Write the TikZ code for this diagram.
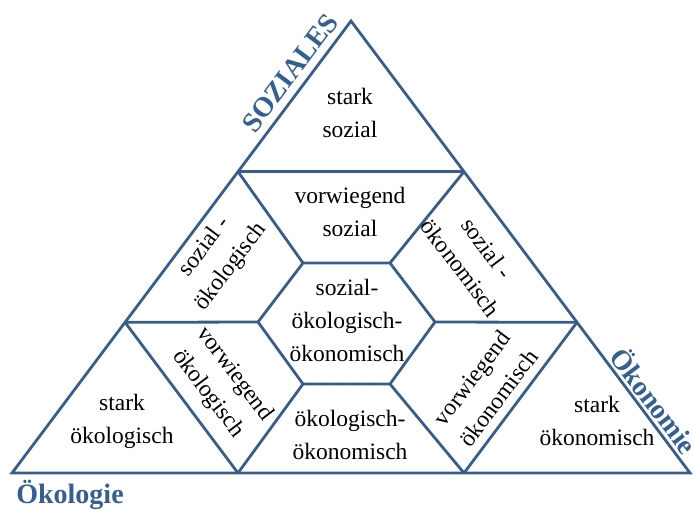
\documentclass[tikz,border=0pt]{standalone}
\usepackage{fontspec}
\setmainfont{Liberation Serif}
\usepackage{tikz}
\usetikzlibrary{positioning, calc}
\definecolor{pyramidblue}{RGB}{56, 93, 138}
\definecolor{pillarblue}{RGB}{54, 95, 145}

\begin{document}
\begin{tikzpicture}[x=1pt, y=-1pt,
    edge/.style={draw=pyramidblue, line width=2.8pt},
    cell/.style={inner sep=0pt, align=center, font=\fontsize{23.5}{33}\selectfont},
    pillar/.style={inner sep=0pt, text=pillarblue, font=\fontsize{28}{30}\selectfont\bfseries}]
    \clip (0,0) rectangle (694,514);
    \coordinate (apex) at (351,21);
    \coordinate (left) at (12,473);
    \coordinate (right) at (690,473);
    \coordinate (l1) at ($(apex)!1/3!(left)$);
    \coordinate (l2) at ($(apex)!2/3!(left)$);
    \coordinate (r1) at ($(apex)!1/3!(right)$);
    \coordinate (r2) at ($(apex)!2/3!(right)$);
    \coordinate (b1) at ($(left)!1/3!(right)$);
    \coordinate (b2) at ($(left)!2/3!(right)$);
    % hexagon
    \coordinate (h1) at (303,263);
    \coordinate (h2) at (390,263);
    \coordinate (h3) at (435,322);
    \coordinate (h4) at (390,384);
    \coordinate (h5) at (303,384);
    \coordinate (h6) at (258,322);

    \draw[edge] (apex) -- (left) -- (right) -- cycle;
    \draw[edge] (l1) -- (r1);
    \draw[edge] (l2) -- (h6);
    \draw[edge] (h3) -- (r2);
    \draw[edge] (l1) -- (h1);
    \draw[edge] (r1) -- (h2);
    \draw[edge] (h5) -- (b1);
    \draw[edge] (h4) -- (b2);
    \draw[edge] (l2) -- (b1);
    \draw[edge] (r2) -- (b2);
    \draw[edge] (h1) -- (h2) -- (h3) -- (h4) -- (h5) -- (h6) -- cycle;

    \node[cell] (starksoz) at (350,113) {stark\\sozial};
    \node[cell] (vorwsoz) at (350,212) {vorwiegend\\sozial};
    \node[cell] (alle) at (347,320) {sozial-\\ökologisch-\\ökonomisch};
    \node[cell] (oekoloek) at (350,435) {ökologisch-\\ökonomisch};
    \node[cell] (starkoekol) at (122,421) {stark\\ökologisch};
    \node[cell] (starkoekon) at (597,421) {stark\\ökonomisch};
    \node[cell, rotate=53] (sozoekol) at (218,257) {sozial -\\ökologisch};
    \node[cell, rotate=-53] (sozoekon) at (474,258) {sozial -\\ökonomisch};
    \node[cell, rotate=-53] (vorwoekol) at (221,384) {vorwiegend\\ökologisch};
    \node[cell, rotate=53] (vorwoekon) at (485,388) {vorwiegend\\ökonomisch};

    \node[pillar, rotate=53] (soziales) at (290,73) {SOZIALES};
    \node[pillar, rotate=-53] (oekonomie) at (655,400) {Ökonomie};
    \node[pillar] (oekologie) at (70,495) {Ökologie};
\end{tikzpicture}
\end{document}
